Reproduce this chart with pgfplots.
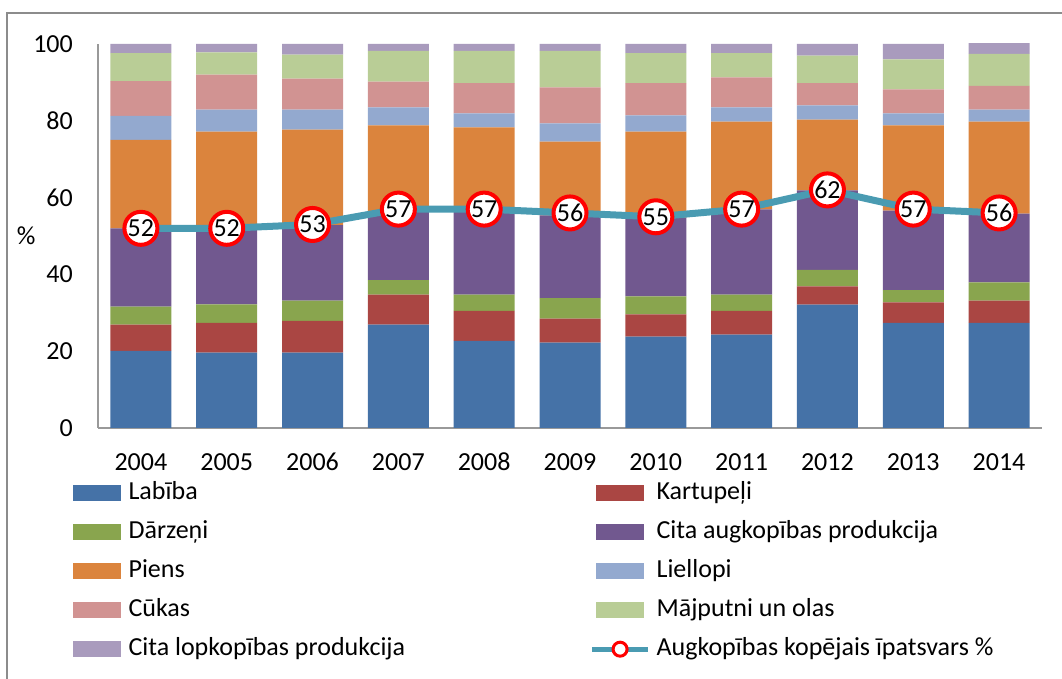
\documentclass[border=0pt]{standalone}
\usepackage{fontspec}
\setmainfont{Carlito}
\usepackage{pgfplots}
\usepackage{pgfplotstable}
\pgfplotsset{compat=1.18}

\definecolor{cLab}{HTML}{4572A7}
\definecolor{cKart}{HTML}{AA4643}
\definecolor{cDarz}{HTML}{89A54E}
\definecolor{cCita}{HTML}{71588F}
\definecolor{cPiens}{HTML}{DB843D}
\definecolor{cLiel}{HTML}{93A9CF}
\definecolor{cCuk}{HTML}{D19392}
\definecolor{cMaj}{HTML}{B9CD96}
\definecolor{cLop}{HTML}{A99BBD}
\definecolor{cLine}{HTML}{4A9BB2}

% shares of agricultural output, %
\pgfplotstableread{
year lab  kart darz cita piens liel cuk maj lop tot
2004 20.1 6.8  4.7  20.4 23.0  6.3  9.0 7.3 2.4 52
2005 19.6 7.8  4.8  19.8 25.2  5.7  9.1 5.8 2.2 52
2006 19.6 8.3  5.3  19.6 24.9  5.2  8.1 6.2 2.8 53
2007 26.9 7.8  3.8  18.0 22.3  4.7  6.7 8.0 1.8 57
2008 22.7 7.8  4.2  21.8 21.8  3.6  7.9 8.4 1.8 57
2009 22.2 6.3  5.3  21.6 19.2  4.7  9.4 9.5 1.8 56
2010 23.8 5.8  4.7  20.5 22.4  4.2  8.4 7.8 2.4 55
2011 24.3 6.2  4.2  22.2 22.9  3.7  7.8 6.3 2.4 57
2012 32.1 4.8  4.3  20.7 18.4  3.7  5.8 7.2 3.0 62
2013 27.4 5.3  3.2  20.7 22.2  3.1  6.3 7.8 4.0 57
2014 27.4 5.8  4.7  17.9 24.0  3.1  6.2 8.3 3.0 56
}\shares

\newcommand{\chartfont}{\fontsize{26bp}{31bp}\selectfont}
% left legend column: fixed width so the right column starts at x=598
\newcommand{\lcol}[1]{\makebox[461bp][l]{#1}}

\pgfplotsset{
  base/.style={
    at={(98bp,251bp)}, anchor=south west,
    scale only axis, width=944bp, height=384bp,
    xmin=2003.5, xmax=2014.5, ymin=0, ymax=100,
    /pgf/number format/assume math mode=true,
  },
  swatch/.style={legend image code/.code={
      \fill[#1] (0bp,-7bp) rectangle (47bp,8bp);
      \path (55bp,0bp);}},
}

\begin{document}
\begin{tikzpicture}[x=1bp,y=1bp]
\useasboundingbox (0,0) rectangle (1062,679);
\draw[black!45, line width=1.5bp] (7,0) -- (7,666) -- (1062,666);

\begin{axis}[
  base,
  ybar stacked, bar width=61bp,
  xtick={2004,...,2014}, ytick={0,20,...,100},
  axis x line=bottom, axis y line=left,
  axis line style={-, draw=black!40, line width=1.5bp},
  major tick length=0pt,
  xticklabel style={font=\chartfont, /pgf/number format/1000 sep={},
    anchor=base, inner sep=0pt, yshift=-43bp},
  yticklabel style={font=\chartfont, anchor=east, inner sep=0pt, xshift=-25bp},
  ylabel={\%}, ylabel style={font=\chartfont, rotate=-90, anchor=center,
    at={(axis description cs:-0.076,0.5)}},
]
\addplot[fill=cLab, draw=none] table[x=year, y=lab] {\shares};
\addplot[fill=cKart, draw=none] table[x=year, y=kart] {\shares};
\addplot[fill=cDarz, draw=none] table[x=year, y=darz] {\shares};
\addplot[fill=cCita, draw=none] table[x=year, y=cita] {\shares};
\addplot[fill=cPiens, draw=none] table[x=year, y=piens] {\shares};
\addplot[fill=cLiel, draw=none] table[x=year, y=liel] {\shares};
\addplot[fill=cCuk, draw=none] table[x=year, y=cuk] {\shares};
\addplot[fill=cMaj, draw=none] table[x=year, y=maj] {\shares};
\addplot[fill=cLop, draw=none] table[x=year, y=lop] {\shares};
\end{axis}

\begin{axis}[
  base, hide axis,
  legend columns=2, legend cell align=left,
  legend style={at={(axis description cs:-0.0265,-0.1406)}, anchor=north west,
    draw=none, fill=none, inner sep=0pt, column sep=0pt, row sep=17bp,
    font=\chartfont,
    nodes={inner sep=0pt, text height=17bp, text depth=5bp}},
]
\addlegendimage{swatch=cLab}
\addlegendimage{swatch=cKart}
\addlegendimage{swatch=cDarz}
\addlegendimage{swatch=cCita}
\addlegendimage{swatch=cPiens}
\addlegendimage{swatch=cLiel}
\addlegendimage{swatch=cCuk}
\addlegendimage{swatch=cMaj}
\addlegendimage{swatch=cLop}
\addplot[cLine, line width=7bp, mark=*, mark size=16.5bp,
  mark options={fill=white, draw=red, line width=4bp},
  nodes near coords,
  every node near coord/.append style={anchor=center, font=\chartfont,
    text=black, inner sep=0pt},
  legend image code/.code={
    \draw[cLine, line width=5bp] (-4bp,0bp) -- (52bp,0bp);
    \draw[red, fill=white, line width=3bp] (24bp,0bp) circle (7bp);
    \path (57bp,0bp);},
] table[x=year, y=tot] {\shares};
\legend{\lcol{Labība}, Kartupeļi, \lcol{Dārzeņi}, Cita augkopības produkcija,
  \lcol{Piens}, Liellopi, \lcol{Cūkas}, Mājputni un olas,
  \lcol{Cita lopkopības produkcija}, Augkopības kopējais īpatsvars \%}
\end{axis}
\end{tikzpicture}
\end{document}
